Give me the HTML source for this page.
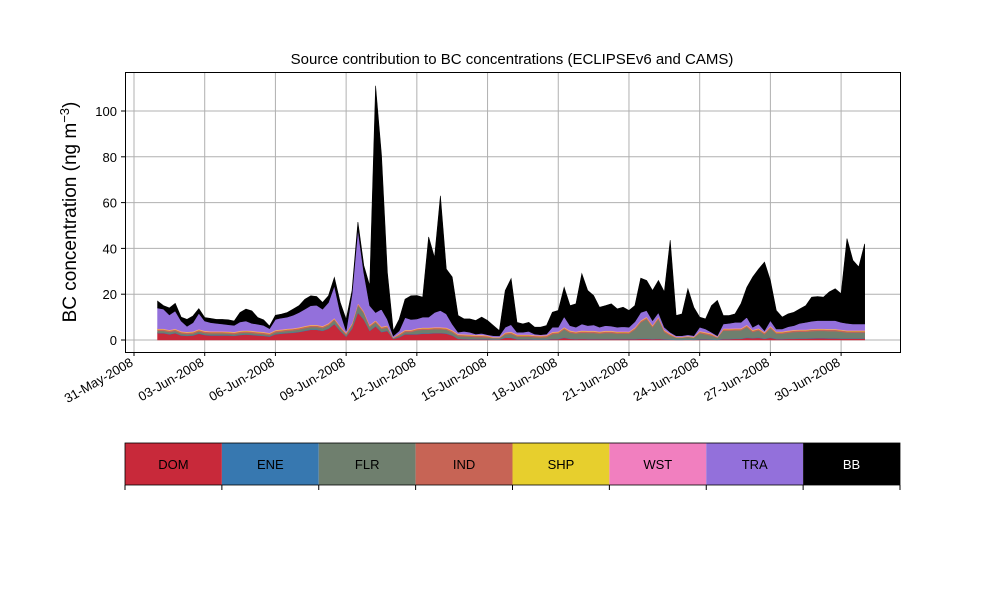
<!DOCTYPE html>
<html><head><meta charset="utf-8"><style>
body{margin:0;background:#fff;}
svg text{font-family:"Liberation Sans",sans-serif;}
</style></head><body>
<svg id="chart" width="1000" height="600" xmlns="http://www.w3.org/2000/svg">
<text x="512" y="64" font-size="15" text-anchor="middle">Source contribution to BC concentrations (ECLIPSEv6 and CAMS)</text>
<g id="grid"></g>
<g id="areas"></g>
<rect x="125.5" y="72.5" width="775" height="280" fill="none" stroke="#000" stroke-width="1"/>
<g id="axes"></g>
<text transform="translate(76,212) rotate(-90)" font-size="19" text-anchor="middle">BC concentration (ng m<tspan baseline-shift="super" font-size="13">−3</tspan>)</text>
<g id="legend"></g>
</svg>
<script>
const seriesNames=["DOM","ENE","FLR","IND","SHP","WST","TRA","BB"];
const seriesColors=["#c8293a","#3778b0","#6f7f6e","#c76455","#e7cf2d","#f17fbf","#9370db","#000000"];
const tickLabels=["31-May-2008","03-Jun-2008","06-Jun-2008","09-Jun-2008","12-Jun-2008","15-Jun-2008","18-Jun-2008","21-Jun-2008","24-Jun-2008","27-Jun-2008","30-Jun-2008"];
const tickDays=[0,3,6,9,12,15,18,21,24,27,30];
const yTicks=[0,20,40,60,80,100];
// time: days since 31-May-2008, 6-hourly from 01-Jun
const DOM=[3,3,2.5,3,2,1.8,2,2.8,2.2,2,2,2,2,1.8,2.2,2.4,2.2,2,1.8,1.5,2.5,2.8,3,3.2,3.5,4,4.5,4.5,4,5,7,4,1.5,5,12,9,4,6,3.5,4,0.5,1.2,2.5,2.5,
2.5,2.8,2.8,3,3,2.8,2,0.5,0.4,0.3,0.3,0.3,0.3,0.2,0.2,1,1,0.3,0.3,0.3,0.2,0.2,0.2,0.4,0.4,1,0.5,0.4,0.5,0.4,0.4,0.4,0.4,0.4,0.4,0.4,0.4,
0.4,0.5,0.5,0.4,0.5,0.3,0.2,0.1,0.1,0.2,0.1,0.3,0.3,0.2,0.1,0.4,0.4,0.5,0.5,1,0.8,1,0.5,1,0.4,0.4,0.5,0.5,0.6,0.6,0.7,0.8,0.8,0.7,0.7,0.6,0.6,0.6,0.6,0.6];
const FLR=[0.8,0.8,0.8,0.8,0.7,0.6,0.6,0.8,0.7,0.7,0.7,0.7,0.6,0.6,0.7,0.7,0.7,0.6,0.6,0.5,0.7,0.7,0.8,0.8,0.9,1,1,1,1,1.2,1.5,1,0.6,1.2,3,2.5,1.5,1.5,1.2,1.2,0.3,0.5,0.8,0.8,
1.5,1.5,1.5,1.5,1.5,1.5,1.2,1,1,1,0.8,0.8,0.6,0.5,0.5,1.2,1.5,1,1,1,0.8,0.7,0.8,2,2.2,3.5,2.5,2.2,2.5,2.5,2.5,2.2,2.5,2.5,2.2,2.3,2.2,
4,7,8.5,5,8.5,3,1.5,0.8,0.8,1,0.8,2.5,2,1.5,0.8,3.5,3.5,3.5,3.5,4.5,2.5,3,1.8,4,2.2,2.2,2.5,2.8,2.8,2.8,3,3,3,3,3,2.8,2.5,2.5,2.5,2.5];
const ENE=[0.2,0.2,0.2,0.2,0.2,0.2,0.2,0.2,0.2,0.2,0.2,0.2,0.2,0.2,0.2,0.2,0.2,0.2,0.2,0.2,0.2,0.2,0.2,0.2,0.2,0.2,0.2,0.2,0.2,0.2,0.2,0.2,0.2,0.2,0.2,0.2,0.2,0.2,0.2,0.2,0.1,0.2,0.2,0.2,
0.2,0.2,0.2,0.2,0.2,0.2,0.2,0.2,0.2,0.2,0.2,0.2,0.2,0.15,0.15,0.2,0.2,0.2,0.2,0.2,0.2,0.2,0.2,0.2,0.2,0.2,0.2,0.2,0.2,0.2,0.2,0.2,0.2,0.2,0.2,0.2,0.2,
0.2,0.2,0.2,0.2,0.2,0.2,0.2,0.15,0.15,0.15,0.15,0.2,0.2,0.2,0.15,0.2,0.2,0.2,0.2,0.2,0.2,0.2,0.2,0.2,0.2,0.2,0.2,0.2,0.2,0.2,0.2,0.2,0.2,0.2,0.2,0.2,0.2,0.2,0.2,0.2];
const IND=[0.6,0.6,0.6,0.6,0.6,0.6,0.6,0.6,0.6,0.6,0.6,0.6,0.6,0.6,0.6,0.6,0.6,0.6,0.6,0.6,0.6,0.6,0.6,0.6,0.6,0.6,0.6,0.6,0.6,0.6,0.6,0.6,0.6,0.6,0.6,0.6,0.6,0.6,0.6,0.6,0.1,0.6,0.6,0.6,
0.6,0.6,0.6,0.6,0.6,0.6,0.6,0.6,0.6,0.6,0.6,0.6,0.6,0.15,0.15,0.6,0.6,0.6,0.6,0.6,0.6,0.6,0.6,0.6,0.6,0.6,0.6,0.6,0.6,0.6,0.6,0.6,0.6,0.6,0.6,0.6,0.6,
0.6,0.6,0.6,0.6,0.6,0.6,0.6,0.15,0.15,0.15,0.15,0.6,0.6,0.6,0.15,0.6,0.6,0.6,0.6,0.6,0.6,0.6,0.6,0.6,0.6,0.6,0.6,0.6,0.6,0.6,0.6,0.6,0.6,0.6,0.6,0.6,0.6,0.6,0.6,0.6];
const SHP=[0.2,0.2,0.2,0.2,0.2,0.2,0.2,0.2,0.2,0.2,0.2,0.2,0.2,0.2,0.2,0.2,0.2,0.2,0.2,0.2,0.2,0.2,0.2,0.2,0.2,0.2,0.2,0.2,0.2,0.2,0.2,0.2,0.2,0.2,0.2,0.2,0.2,0.2,0.2,0.2,0.1,0.2,0.2,0.2,
0.2,0.2,0.2,0.2,0.2,0.2,0.2,0.2,0.2,0.2,0.2,0.2,0.2,0.15,0.15,0.2,0.2,0.2,0.2,0.2,0.2,0.2,0.2,0.2,0.2,0.2,0.2,0.2,0.2,0.2,0.2,0.2,0.2,0.2,0.2,0.2,0.2,
0.2,0.2,0.2,0.2,0.2,0.2,0.2,0.15,0.15,0.15,0.15,0.2,0.2,0.2,0.15,0.2,0.2,0.2,0.2,0.2,0.2,0.2,0.2,0.2,0.2,0.2,0.2,0.2,0.2,0.2,0.2,0.2,0.2,0.2,0.2,0.2,0.2,0.2,0.2,0.2];
const WST=[0.2,0.2,0.2,0.2,0.2,0.2,0.2,0.2,0.2,0.2,0.2,0.2,0.2,0.2,0.2,0.2,0.2,0.2,0.2,0.2,0.2,0.2,0.2,0.2,0.2,0.2,0.2,0.2,0.2,0.2,0.2,0.2,0.2,0.2,0.2,0.2,0.2,0.2,0.2,0.2,0.1,0.2,0.2,0.2,
0.2,0.2,0.2,0.2,0.2,0.2,0.2,0.2,0.2,0.2,0.2,0.2,0.2,0.15,0.15,0.2,0.2,0.2,0.2,0.2,0.2,0.2,0.2,0.2,0.2,0.2,0.2,0.2,0.2,0.2,0.2,0.2,0.2,0.2,0.2,0.2,0.2,
0.2,0.2,0.2,0.2,0.2,0.2,0.2,0.15,0.15,0.15,0.15,0.2,0.2,0.2,0.15,0.2,0.2,0.2,0.2,0.2,0.2,0.2,0.2,0.2,0.2,0.2,0.2,0.2,0.2,0.2,0.2,0.2,0.2,0.2,0.2,0.2,0.2,0.2,0.2,0.2];
const TRA=[9,8.5,6.5,7.7,4.4,2.4,3.8,6.9,4.2,3.7,3.4,3.1,2.9,2.8,3.8,4,3.2,3.1,2.8,1.8,4.6,4.9,5,5.6,6.4,7.3,8.3,8.5,7.3,9,14,5.8,0.7,12.6,32.3,16.8,8.3,3.3,7.6,2.6,0.6,1.1,5.3,4.5,
4,4.5,4.5,6.3,7.2,5.9,2.6,0.7,1.2,0.9,0.3,0.6,0.2,0.6,0.5,2.2,3,0.9,0.9,1.3,0.4,0.2,0.4,2,1.8,4.5,2.1,1.8,2.8,2.2,2.5,1.8,2.2,2,1.8,1.9,1.8,
2.4,3.3,2.7,1.9,1.8,1.1,0.5,0.4,0.4,0.5,0.4,1.6,1.3,0.5,0.4,1.9,2.2,2.5,2.5,3.3,1.1,1.8,0.6,2.3,1,1,1.6,1.8,2.7,3.1,3.3,3.5,3.5,3.6,3.6,3.1,3,2.7,2.7,2.7];
const BB=[3,1.5,3,3.3,1.7,3,2.9,2,1.5,1.8,1.7,2,2.1,1.9,4.1,5.2,5.4,2.9,2.4,1.1,1.8,1.7,2,2.7,3,4.3,4.3,3.8,2.9,2.9,3.6,4.4,5,1.5,3,3,8.7,99,67.2,20.5,2.2,5,8,10.3,
10.2,8.7,35,24,50.1,19.6,20.5,7.3,5.4,5.8,5.9,7.1,6.2,4.4,2.3,16,20.1,4.3,3.6,3.9,3,3.3,3.7,6.5,7.3,12.8,8.7,10.2,22,15.3,12.8,8.7,8.7,9.7,8,8.5,7.3,
7,15,13.1,13.1,14,15.4,40.2,8.8,9.5,20.1,12.4,4.4,4.4,11.6,15.4,3.7,3.4,3.7,8.1,13,21.9,24,29.9,17.5,8.1,5.2,5.6,5.8,6.3,7.3,10.5,10.5,10.2,12.5,13.9,12.5,37,27.8,24.9,35];
const series=[DOM,ENE,FLR,IND,SHP,WST,TRA,BB];
const NS="http://www.w3.org/2000/svg";
function xScale(d){return 134+d*23.57;}
function yScale(v){return 340-v*2.29;}
function mk(tag,attrs,parent){const e=document.createElementNS(NS,tag);for(const k in attrs)e.setAttribute(k,attrs[k]);parent.appendChild(e);return e;}
const grid=document.getElementById('grid'),axes=document.getElementById('axes'),areas=document.getElementById('areas'),legend=document.getElementById('legend');
tickDays.forEach((d,i)=>{const x=xScale(d);
 const gl=mk('line',{x1:x,x2:x,y1:72,y2:352,stroke:'#b0b0b0','stroke-width':1},grid);
 
 
 const tk=mk('line',{x1:x,x2:x,y1:352,y2:356,stroke:'#000'},axes);
 
 
 const t=mk('text',{x:0,y:0,'font-size':13,'text-anchor':'end',transform:`translate(${x},${365}) rotate(-30)`},axes);
 t.textContent=tickLabels[i];
 
 
});
yTicks.forEach(v=>{const y=yScale(v);
 const gl=mk('line',{x1:125,x2:900,y1:y,y2:y,stroke:'#b0b0b0','stroke-width':1},grid);
 
 
 const tk=mk('line',{x1:121,x2:125,y1:y,y2:y,stroke:'#000'},axes);
 
 
 const t=mk('text',{x:117,y:y+5,'font-size':13,'text-anchor':'end'},axes);
 t.textContent=String(v);
 
 
});
const n=DOM.length;const base=new Array(n).fill(0);
series.forEach((s,si)=>{
 const top=base.map((b,i)=>b+s[i]);
 let d='';
 for(let i=0;i<n;i++){d+=(i?'L':'M')+xScale(1+i/4).toFixed(2)+','+yScale(top[i]).toFixed(2);}
 for(let i=n-1;i>=0;i--){d+='L'+xScale(1+i/4).toFixed(2)+','+yScale(base[i]).toFixed(2);}
 d+='Z';
 const p=mk('path',{d:d,fill:seriesColors[si],stroke:seriesColors[si],'stroke-width':0.6},areas);
 
 
 for(let i=0;i<n;i++)base[i]=top[i];
});
const w=775/8;
seriesNames.forEach((nm,i)=>{const x=125+i*w;
 const r=mk('rect',{x:x,y:443,width:w,height:42,fill:seriesColors[i]},legend);
 
 
 const t=mk('text',{x:x+w/2,y:469,'font-size':13,'text-anchor':'middle',fill:nm==='BB'?'#fff':'#000'},legend);
 t.textContent=nm;
 
 
});
for(let i=0;i<=8;i++){const x=125+i*w;
 const tk=mk('line',{x1:x,x2:x,y1:485,y2:490,stroke:'#000'},legend);
 
 
}
const fr=mk('rect',{x:125,y:443,width:775,height:42,fill:'none',stroke:'#000','stroke-width':0.8},legend);


</script>
</body></html>
